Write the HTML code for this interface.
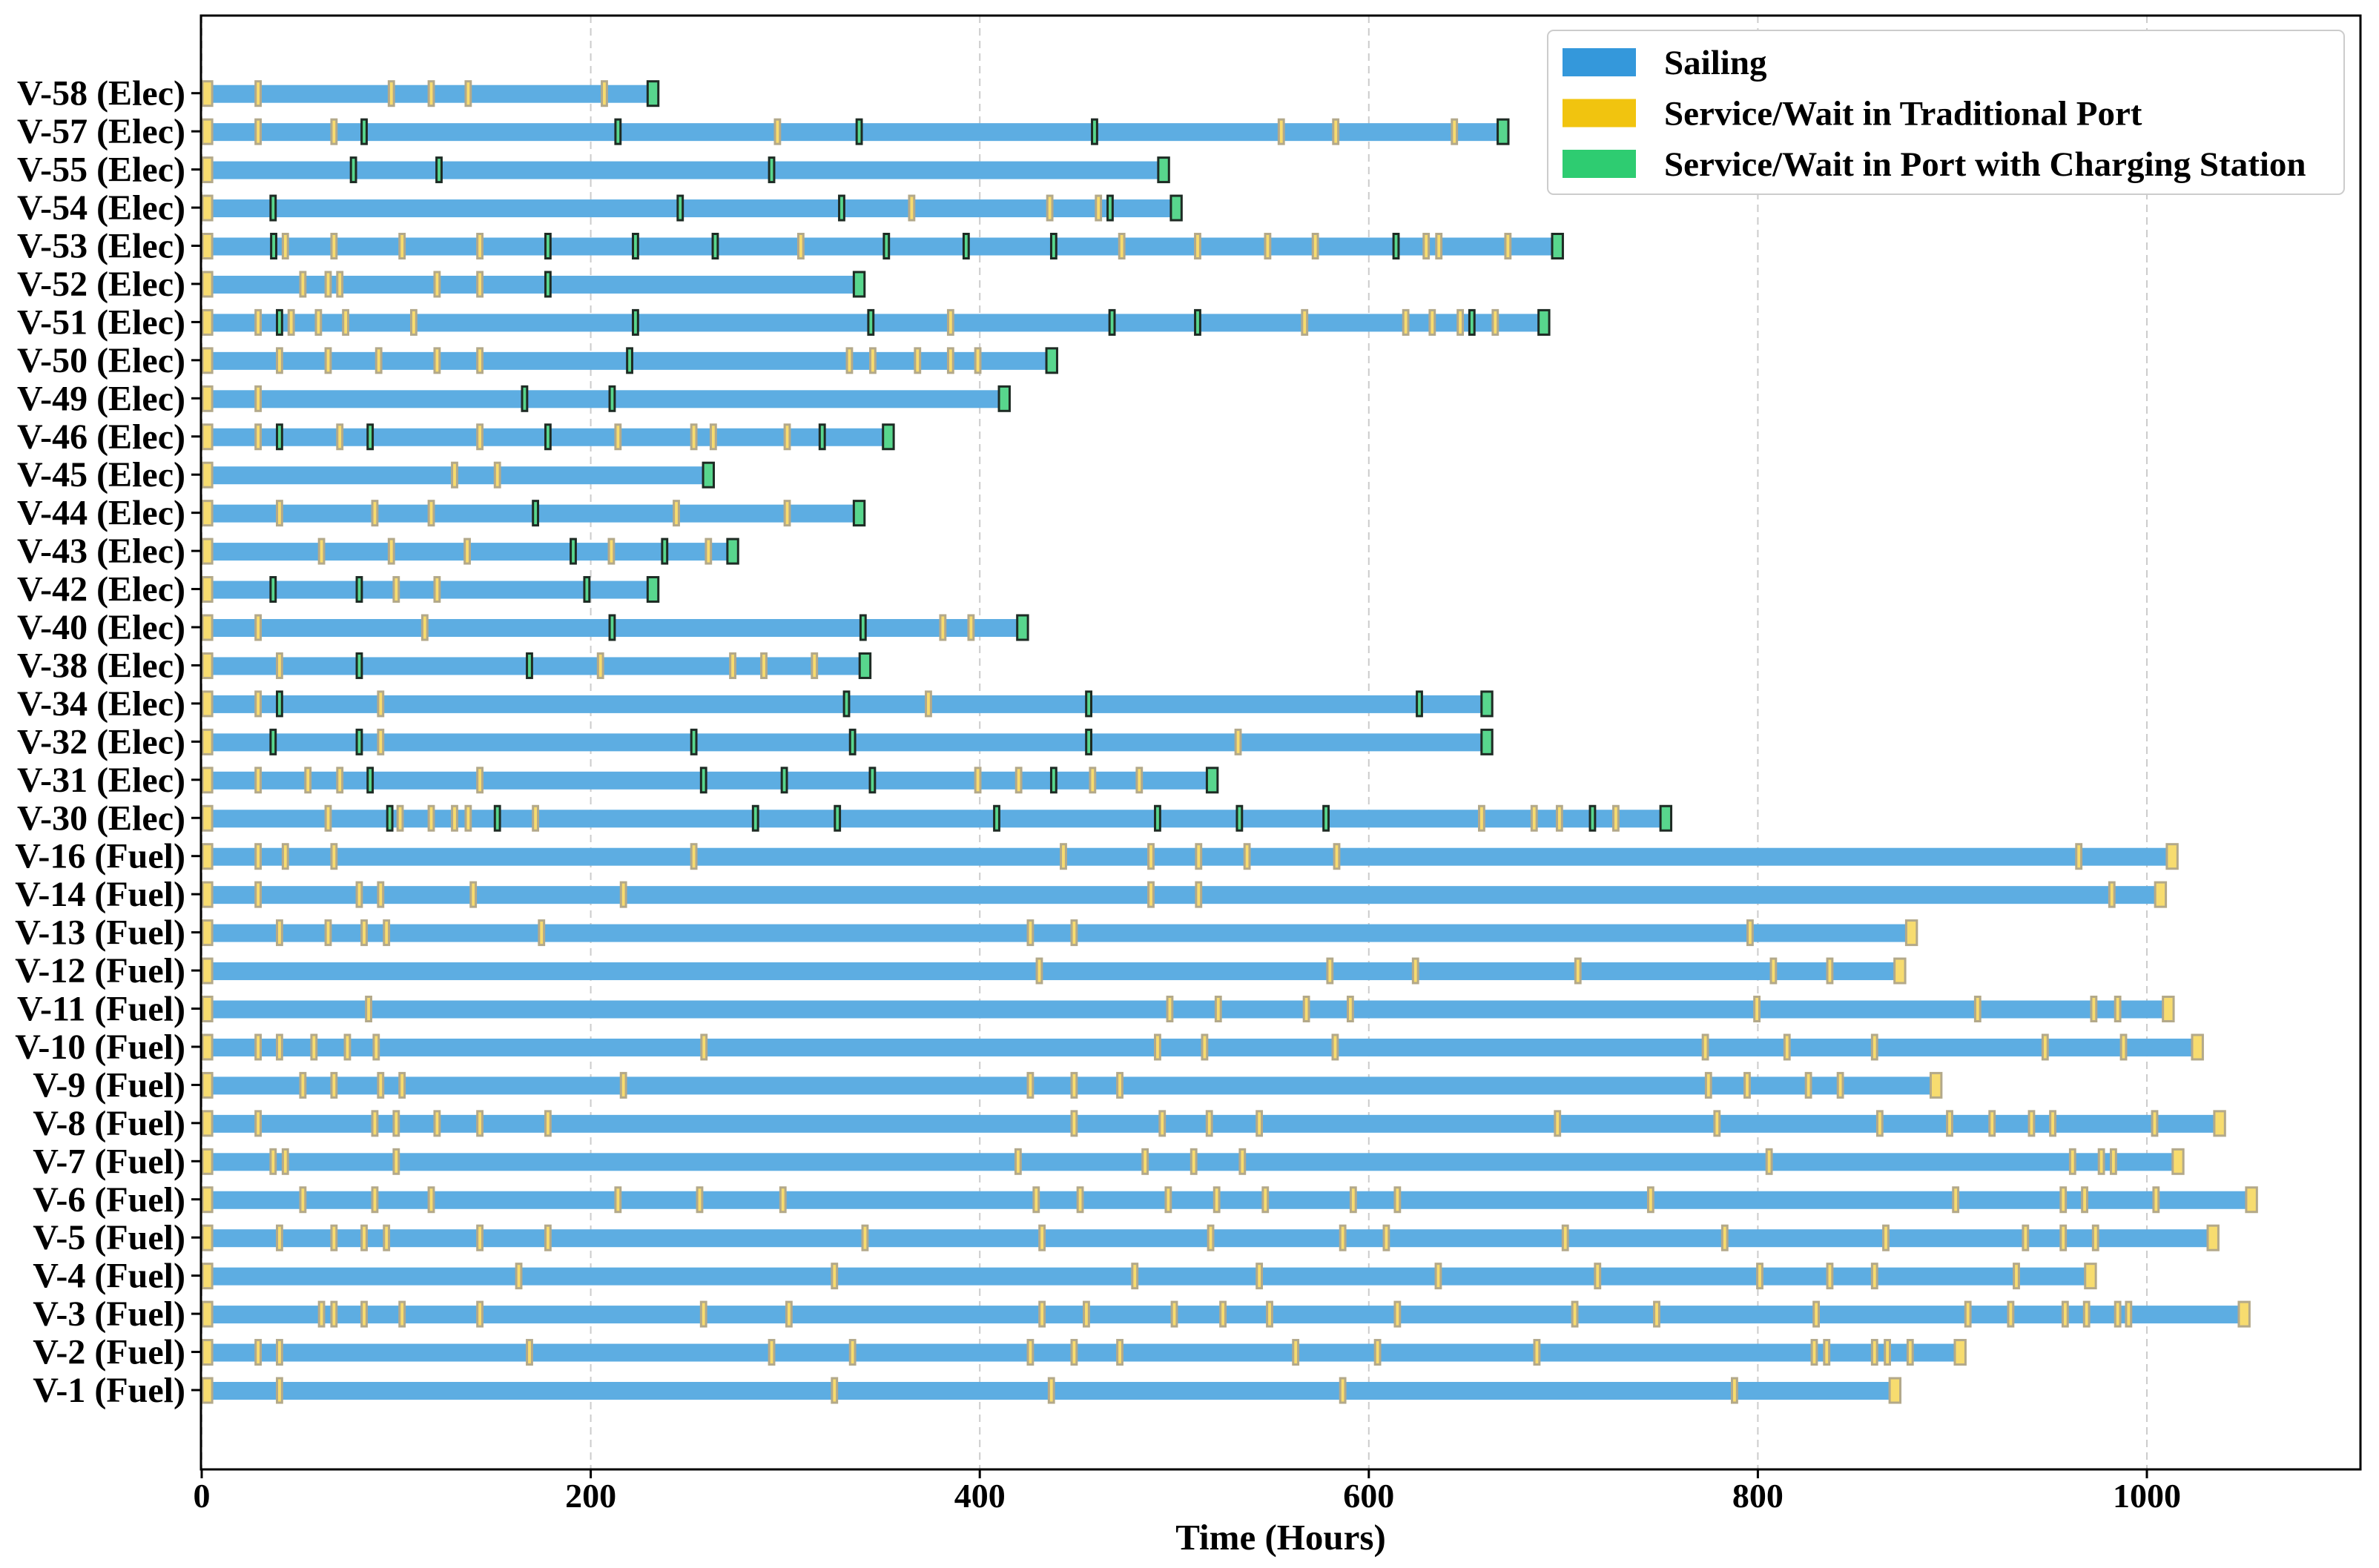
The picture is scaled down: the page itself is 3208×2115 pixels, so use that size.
<!DOCTYPE html>
<html><head><meta charset="utf-8"><style>
html,body{margin:0;padding:0;background:#fff;}
svg{display:block;font-family:"Liberation Serif",serif;font-weight:bold;}
</style></head><body>
<svg id="chart" width="3208" height="2115" viewBox="0 0 3208 2115" xmlns="http://www.w3.org/2000/svg"></svg>
<script>
const vessels = ["V-58 (Elec)","V-57 (Elec)","V-55 (Elec)","V-54 (Elec)","V-53 (Elec)","V-52 (Elec)","V-51 (Elec)","V-50 (Elec)","V-49 (Elec)","V-46 (Elec)","V-45 (Elec)","V-44 (Elec)","V-43 (Elec)","V-42 (Elec)","V-40 (Elec)","V-38 (Elec)","V-34 (Elec)","V-32 (Elec)","V-31 (Elec)","V-30 (Elec)","V-16 (Fuel)","V-14 (Fuel)","V-13 (Fuel)","V-12 (Fuel)","V-11 (Fuel)","V-10 (Fuel)","V-9 (Fuel)","V-8 (Fuel)","V-7 (Fuel)","V-6 (Fuel)","V-5 (Fuel)","V-4 (Fuel)","V-3 (Fuel)","V-2 (Fuel)","V-1 (Fuel)"];
const endTimes = [232,669,494.5,501,697,338,690,437,412.6,353,260.5,338,273,232,422,341,660.7,660.7,519.5,752.7,1013,1007,879,873,1011,1026,891.6,1037.4,1016,1053.8,1034,971,1050,904,870.5];
// stops: "T" = traditional port, "C" = charging station port
const stops = [
"T29 T97.5 T118 T137 T207",
"T29 T68 C83.5 C214 T296 C338 C459 T555 T583 T644",
"C78 C122 C293",
"C36.7 C246 C329 T365 T436 T461 C467",
"C37 T43 T68 T103 T143 C178 C223 C264 T308 C352 C393 C438 T473 T512 T548 T572.5 C614 T629.5 T636 T671.5",
"T52 T65 T71 T121 T143 C178",
"T29 C40 T46 T60 T74 T109 C223 C344 T385 C468 C512 T567 T619 T632.6 T647 C653 T665",
"T40 T65 T91 T121 T143 C220 T333 T345 T368 T385 T399",
"T29 C166 C211",
"T29 C40 T71 C86.6 T143 C178 T214 T253 T263 T301 C319",
"T130 T152",
"T40 T89 T118 C171.6 T244 T301",
"T61.6 T97.5 T136.5 C191 T210.6 C238 T260.5",
"C36.7 C81 T100 T121 C198",
"T29 T114.7 C211 C340 T381 T395.5",
"T40 C81 C168.5 T205 T273 T289 T315",
"T29 C40 T92 C331.5 T373.6 C456 C626",
"C36.7 C81 T92 C253 C334.6 C456 T532.8",
"T29 T54.6 T71 C86.6 T143 C258 C299.5 C344.8 T399 T420 C438 T458 T482",
"T65 C96.7 T102 T118 T130 T137 C152 T171.6 C284.7 C326.8 C408.7 C491.4 C533.5 C578 T658 T685 T698 C715 T727",
"T29 T43 T68 T253 T443 T488 T512.5 T537.4 T583.5 T965",
"T29 T81 T92 T139.6 T216.8 T488 T512.5 T982",
"T40 T65 T83.5 T95 T174.7 T426 T448.5 T796",
"T430.6 T580 T624 T707.5 T808 T837",
"T85.8 T497.7 T522.6 T567.9 T590.5 T799.5 T913 T972.7 T985",
"T29 T40 T57.7 T74.9 T89.7 T258.2 T491.4 T515.6 T582.7 T773 T815 T860 T947.7 T988",
"T52 T68 T92 T103 T216.8 T426 T448.5 T472 T774.6 T794.5 T826 T842.4",
"T29 T89 T100 T121 T143 T178 T448.5 T493.8 T518 T543.7 T697 T779 T862.7 T898.6 T920.4 T940.7 T951.6 T1004",
"T36.7 T43 T100 T419.7 T485 T510 T535 T805.8 T961.8 T976.6 T982.8",
"T52 T89 T118 T214 T256 T298.8 T429 T451.6 T496.9 T521.8 T546.8 T592 T614.7 T744.9 T901.7 T957 T968 T1004.7",
"T40 T68 T83.5 T95 T143 T178 T341 T432 T518.7 T586.6 T609 T701 T783 T865.8 T937.6 T957 T973.6",
"T163 T325.3 T479.7 T543.7 T635.7 T717.6 T801 T837 T860 T932.9",
"T61.6 T68 T83.5 T103 T143 T258 T301.9 T432 T454.8 T500 T525 T549 T614.7 T705.9 T748 T830 T908 T930 T958 T969 T985 T990.6",
"T29 T40 T168.5 T293 T334.6 T426 T448.5 T472 T562.4 T604.5 T686.4 T829 T835.4 T860 T866.6 T878.3",
"T40 T325.3 T436.8 T586.6 T788"
];
const xTicks = [0,200,400,600,800,1000];

const NS="http://www.w3.org/2000/svg";
const svg=document.getElementById('chart');
const L=271,R=3183,T=21,B=1982;
const x0=272,pxh=2.623;
const X=h=>x0+h*pxh;
const row0=125.7,rowStep=51.45;
const Y=i=>row0+i*rowStep;
const C={sail:"#5dade2",trad:"#f7dc6f",tradE:"#b3a98a",chg:"#58d68d",chgE:"#1e2b24"};
function el(tag,attrs,parent){const e=document.createElementNS(NS,tag);for(const k in attrs)e.setAttribute(k,attrs[k]);(parent||svg).appendChild(e);return e;}

// grid
xTicks.forEach(t=>{
  const g=el('line',{x1:X(t),x2:X(t),y1:T,y2:B,stroke:"#cccccc","stroke-width":2,"stroke-dasharray":"10,7"});
  
  
});

// rows
vessels.forEach((v,i)=>{
  const cy=Y(i);
  const g=el('g',{});
  
  
  const isE=v.indexOf('Elec')>=0;
  const end=endTimes[i];
  const bar=el('rect',{x:X(0),y:cy-11,width:X(end)-X(0),height:24,fill:C.sail},g);
  
  
  const s=el('rect',{x:X(0)+1,y:cy-16,width:5*pxh,height:33,fill:C.trad,stroke:C.tradE,"stroke-width":3},g);
  
  
  stops[i].split(' ').forEach(tok=>{
    const type=tok[0],t=parseFloat(tok.slice(1));
    const w=2.6*pxh;
    const m=el('rect',{x:X(t)-w/2,y:cy-16,width:w,height:33,fill:type==='C'?C.chg:C.trad,stroke:type==='C'?C.chgE:C.tradE,"stroke-width":3},g);
    
    
  });
  const ew=5.5*pxh;
  const e=el('rect',{x:X(end)-ew/2,y:cy-16,width:ew,height:33,fill:isE?C.chg:C.trad,stroke:isE?C.chgE:C.tradE,"stroke-width":3},g);
  
  
  const tk=el('line',{x1:L-13,x2:L,y1:cy,y2:cy,stroke:"#000","stroke-width":3});
  
  
  const lb=el('text',{x:250,y:cy+16,"text-anchor":"end","font-size":48});
  lb.textContent=v;
  
  
});

// axes frame
const fr=el('rect',{x:L,y:T,width:R-L,height:B-T,fill:"none",stroke:"#000","stroke-width":3});


xTicks.forEach(t=>{
  const tk=el('line',{x1:X(t),x2:X(t),y1:B,y2:B+12,stroke:"#000","stroke-width":3});
  
  
  const lb=el('text',{x:X(t),y:2033,"text-anchor":"middle","font-size":46});
  lb.textContent=t;
  
  
});
const xl=el('text',{x:(L+R)/2,y:2090,"text-anchor":"middle","font-size":49});
xl.textContent="Time (Hours)";



// legend
const lg=el('g',{});


el('rect',{x:2087,y:41,width:1074,height:221,rx:8,fill:"#fff",stroke:"#cccccc","stroke-width":2},lg);
[["Sailing","#3498db"],["Service/Wait in Traditional Port","#f1c40f"],["Service/Wait in Port with Charging Station","#2ecc71"]].forEach((d,k)=>{
  const cy=84+k*68.5;
  const e=el('g',{},lg);
  
  
  el('rect',{x:2107,y:cy-19,width:99,height:38,fill:d[1]},e);
  const t=el('text',{x:2244,y:cy+16,"font-size":47},e);
  t.textContent=d[0];
});
</script>
</body></html>
